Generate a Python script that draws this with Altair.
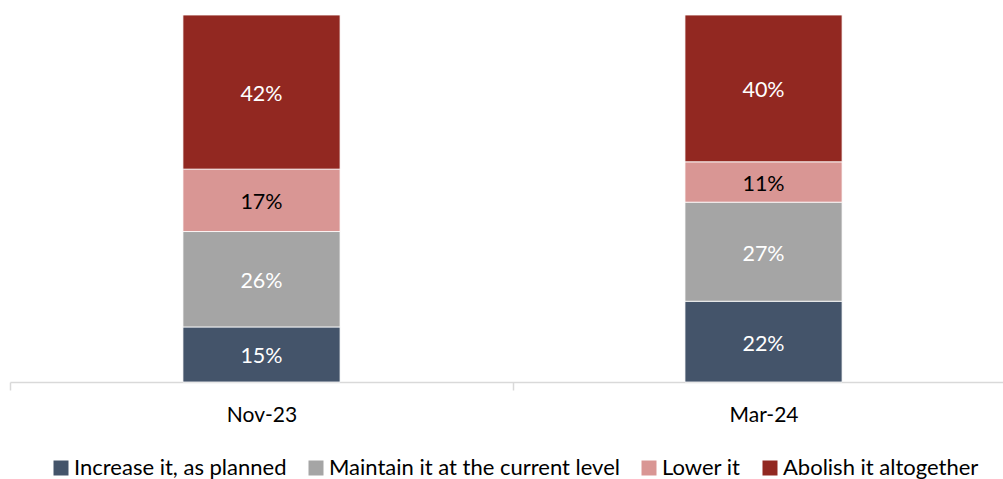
import altair as alt
import pandas as pd

# Survey waves and answer options
periods = ["Nov-23", "Mar-24"]
responses = [
    "Increase it, as planned",
    "Maintain it at the current level",
    "Lower it",
    "Abolish it altogether",
]
# Share of respondents (%) per answer, in the order of `responses`
nov_23 = [15, 26, 17, 42]
mar_24 = [22, 27, 11, 40]

colors = ["#44546a", "#a5a5a5", "#d99694", "#922821"]
label_colors = ["white", "white", "black", "white"]

rows = []
for period, values in zip(periods, [nov_23, mar_24]):
    for i, (resp, val) in enumerate(zip(responses, values)):
        rows.append({
            "period": period,
            "response": resp,
            "value": val,
            "order": i,
            "tcolor": label_colors[i],
        })
df = pd.DataFrame(rows)

FONT = "Lato"

x_enc = alt.X(
    "period:N",
    sort=periods,
    title=None,
    scale=alt.Scale(paddingInner=0.687, paddingOuter=0.3325, align=0.518),
    axis=alt.Axis(
        labelAngle=0,
        labelFont=FONT,
        labelFontSize=21,
        labelColor="#000000",
        labelPadding=14,
        labelOffset=251,
        domainColor="#d9d9d9",
        domainWidth=1.5,
        tickColor="#d9d9d9",
        tickWidth=1.5,
        tickSize=8,
        tickOffset=-251,
    ),
)

bars = alt.Chart(df).mark_bar(stroke="white", strokeWidth=0.8).encode(
    x=x_enc,
    y=alt.Y("value:Q", stack="zero", scale=alt.Scale(domain=[0, 100], nice=False), axis=None),
    color=alt.Color(
        "response:N",
        sort=responses,
        scale=alt.Scale(domain=responses, range=colors),
        legend=alt.Legend(
            title=None,
            orient="none",
            legendX=40,
            legendY=442,
            direction="horizontal",
            symbolType="square",
            symbolSize=225,
            symbolStrokeWidth=0,
            labelFont=FONT,
            labelFontSize=22,
            labelColor="#000000",
            labelOffset=2,
            labelLimit=0,
            columnPadding=18,
        ),
    ),
    order=alt.Order("order:Q"),
)

labels = alt.Chart(df).transform_stack(
    stack="value",
    groupby=["period"],
    sort=[alt.SortField("order")],
    as_=["y0", "y1"],
).transform_calculate(
    mid="(datum.y0 + datum.y1) / 2",
    label="datum.value + '%'",
).mark_text(font=FONT, fontSize=21.5, baseline="middle", align="center", dy=3).encode(
    x=alt.X("period:N", sort=periods),
    y=alt.Y("mid:Q"),
    text="label:N",
    color=alt.Color("tcolor:N", scale=None),
)

chart = alt.layer(bars, labels).properties(
    width=993,
    height=367,
    autosize=alt.AutoSizeParams(type="none"),
    padding={"left": 10, "top": 15, "right": 0, "bottom": 97},
    background="white",
).configure_view(stroke=None)

chart.save("out.html", embed_options={"renderer": "svg", "actions": False})
